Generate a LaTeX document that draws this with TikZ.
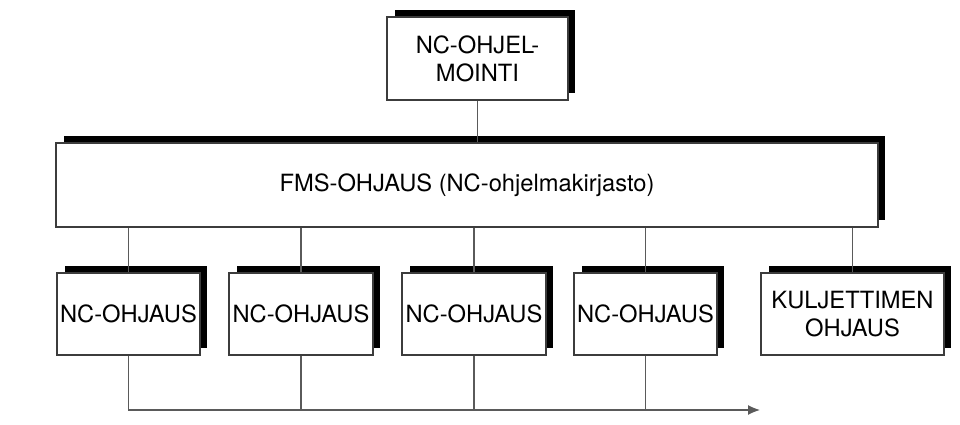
\documentclass[tikz,border=0pt]{standalone}
\usepackage{fontspec}
\setmainfont{TeX Gyre Heros}
\usepackage{tikz}
\usetikzlibrary{arrows.meta,positioning,shadows}
\definecolor{boxline}{RGB}{60,60,60}
\definecolor{wireline}{RGB}{90,90,90}

\begin{document}
\begin{tikzpicture}[
  x=0.02cm, y=-0.02cm,
  every node/.style={font=\fontsize{13.5}{16}\selectfont, align=center},
  unit/.style={draw=boxline, line width=0.8pt, fill=white, inner sep=0pt,
               minimum height=1.64cm,
               drop shadow={shadow xshift=0.15cm, shadow yshift=0.14cm,
                            opacity=1, fill=black}},
  wire/.style={draw=wireline, line width=0.7pt}
]
\useasboundingbox (0,0) rectangle (960,425);
\node[unit, minimum width=3.62cm, minimum height=1.66cm] (prog) at (477.5,58.5) {NC-OHJEL-\\MOINTI};
\node[unit, minimum width=16.44cm, minimum height=1.68cm] (fms) at (467,185) {FMS-OHJAUS (NC-ohjelmakirjasto)};
\node[unit, minimum width=2.86cm] (nc1) at (128.5,314) {NC-OHJAUS};
\node[unit, minimum width=2.88cm] (nc2) at (301,314)   {NC-OHJAUS};
\node[unit, minimum width=2.88cm] (nc3) at (474,314)   {NC-OHJAUS};
\node[unit, minimum width=2.86cm] (nc4) at (645.5,314) {NC-OHJAUS};
\node[unit, minimum width=3.66cm] (kul) at (852.5,314) {KULJETTIMEN\\OHJAUS};
\coordinate (busend) at (760,410);
\draw[wire] (prog.south) -- (prog.south |- fms.north);
\foreach \dst in {nc1,nc2,nc3,nc4,kul}
  \draw[wire] (\dst.north |- fms.south) -- (\dst.north);
\draw[wire, -{Latex[length=2.4mm,width=2mm]}] (nc1.south) |- (busend);
\foreach \src in {nc2,nc3,nc4}
  \draw[wire] (\src.south) -- (\src.south |- busend);
\end{tikzpicture}
\end{document}
